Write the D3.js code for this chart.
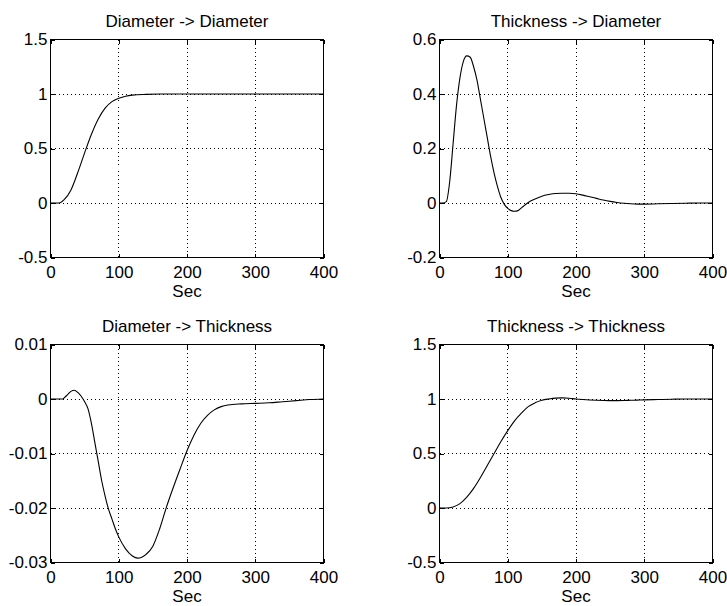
<!DOCTYPE html>
<html>
<head>
<meta charset="utf-8">
<script src="https://cdn.jsdelivr.net/npm/d3@7"></script>
<style>
  body { margin: 0; background: #fff; }
  text { font-family: "Liberation Sans", Arial, Helvetica, sans-serif; }
</style>
</head>
<body>
<div id="chart"></div>
<script>
// panel titles
var titles = ["Diameter -> Diameter", "Thickness -> Diameter",
              "Diameter -> Thickness", "Thickness -> Thickness"];

// x axis shared by all four panels
var xTicks = [0, 100, 200, 300, 400];
var xLabels = ["0", "100", "200", "300", "400"];

// y ticks / labels per panel
var yTicks1 = [-0.5, 0, 0.5, 1, 1.5];
var yLabels1 = ["-0.5", "0", "0.5", "1", "1.5"];
var yTicks2 = [-0.2, 0, 0.2, 0.4, 0.6];
var yLabels2 = ["-0.2", "0", "0.2", "0.4", "0.6"];
var yTicks3 = [-0.03, -0.02, -0.01, 0, 0.01];
var yLabels3 = ["-0.03", "-0.02", "-0.01", "0", "0.01"];
var yTicks4 = [-0.5, 0, 0.5, 1, 1.5];
var yLabels4 = ["-0.5", "0", "0.5", "1", "1.5"];

// step responses
var t1 = [0, 10, 15, 20, 30, 40, 50, 60, 70, 80, 90, 100, 110, 120, 140, 160, 200, 300, 400];
var v1 = [0, 0, 0.005, 0.03, 0.12, 0.28, 0.46, 0.63, 0.77, 0.87, 0.93, 0.96, 0.98, 0.99, 0.997, 1, 1, 1, 1];

var t2 = [0, 5, 10, 15, 20, 25, 30, 35, 40, 45, 50, 55, 60, 65, 70, 75, 80, 85, 90, 95,
          100, 105, 110, 115, 120, 125, 130, 140, 150, 160, 170, 180, 190, 200, 210, 220,
          230, 240, 250, 260, 270, 280, 290, 300, 320, 340, 360, 380, 400];
var v2 = [0, 0, 0.005, 0.08, 0.22, 0.36, 0.46, 0.52, 0.54, 0.535, 0.5, 0.45, 0.38, 0.31, 0.24, 0.17, 0.11, 0.06, 0.02, -0.005,
          -0.02, -0.028, -0.03, -0.028, -0.018, -0.008, 0.002, 0.015, 0.025, 0.031, 0.035, 0.036, 0.036, 0.034, 0.029, 0.023,
          0.017, 0.011, 0.006, 0.002, -0.001, -0.003, -0.004, -0.004, -0.003, -0.002, -0.001, 0, 0];

var t3 = [0, 10, 18, 20, 25, 30, 35, 40, 45, 50, 55, 60, 65, 70, 75, 80, 85, 90, 95, 100,
          110, 120, 128, 140, 150, 160, 170, 180, 190, 200, 210, 220, 230, 240, 250, 260,
          280, 300, 320, 340, 360, 380, 400];
var v3 = [0, 0, 0, 0.0002, 0.0008, 0.0014, 0.0016, 0.0012, 0.0005, -0.0005, -0.0018, -0.0045, -0.008, -0.0115, -0.015, -0.0178, -0.0202, -0.022, -0.0238, -0.0253,
          -0.0275, -0.0288, -0.0292, -0.0285, -0.027, -0.0238, -0.0198, -0.0162, -0.0128, -0.0095, -0.0067, -0.0045, -0.003, -0.002, -0.0014, -0.0011,
          -0.0009, -0.0008, -0.0007, -0.0005, -0.0003, -0.0001, 0];

var t4 = [0, 10, 20, 30, 40, 50, 60, 70, 80, 90, 100, 110, 120, 130, 140, 150, 160, 170, 180, 190,
          200, 210, 220, 230, 240, 250, 260, 270, 280, 290, 300, 320, 340, 360, 380, 400];
var v4 = [0, 0, 0.01, 0.04, 0.1, 0.18, 0.28, 0.39, 0.5, 0.61, 0.71, 0.8, 0.87, 0.93, 0.965, 0.988, 1.0, 1.008, 1.01, 1.007,
          1.0, 0.995, 0.991, 0.988, 0.986, 0.985, 0.985, 0.986, 0.988, 0.99, 0.992, 0.995, 0.998, 1.0, 1.0, 1.0];

var W = 727, H = 606;
var pw = 273, ph = 218;
var fontSize = "17px";

var panels = [
    { left: 50.5,  top: 39.5,  t: t1, v: v1, yt: yTicks1, yl: yLabels1 },
    { left: 439.5, top: 39.5,  t: t2, v: v2, yt: yTicks2, yl: yLabels2 },
    { left: 50.5,  top: 344.5, t: t3, v: v3, yt: yTicks3, yl: yLabels3 },
    { left: 439.5, top: 344.5, t: t4, v: v4, yt: yTicks4, yl: yLabels4 }
];

var svg = d3.select("#chart")
            .append("svg")
            .attr("width", W)
            .attr("height", H);

panels.forEach(function (p, i) {
    var g = svg.append("g")
               .attr("transform", `translate(${p.left},${p.top})`);

    var x = d3.scaleLinear().domain([0, 400]).range([0, pw]);
    var y = d3.scaleLinear()
              .domain([p.yt[0], p.yt[p.yt.length - 1]])
              .range([ph, 0]);

    // dotted grid
    g.append("g")
     .selectAll("line")
     .data(xTicks.slice(1, -1))
     .enter()
     .append("line")
     .attr("x1", function (d) { return x(d); })
     .attr("x2", function (d) { return x(d); })
     .attr("y1", 0)
     .attr("y2", ph)
     .attr("stroke", "#000")
     .attr("stroke-dasharray", "1,3")
     .attr("shape-rendering", "crispEdges");

    g.append("g")
     .selectAll("line")
     .data(p.yt.slice(1, -1))
     .enter()
     .append("line")
     .attr("x1", 0)
     .attr("x2", pw)
     .attr("y1", function (d) { return y(d); })
     .attr("y2", function (d) { return y(d); })
     .attr("stroke", "#000")
     .attr("stroke-dasharray", "1,3")
     .attr("shape-rendering", "crispEdges");

    // axes, ticks pointing inward
    var xAxis = d3.axisBottom(x)
                  .tickValues(xTicks)
                  .tickFormat(function (d, k) { return xLabels[k]; })
                  .tickSize(-4)
                  .tickPadding(8);
    var yAxis = d3.axisLeft(y)
                  .tickValues(p.yt)
                  .tickFormat(function (d, k) { return p.yl[k]; })
                  .tickSize(-4)
                  .tickPadding(3);

    var gx = g.append("g").attr("transform", `translate(0,${ph})`).call(xAxis);
    var gy = g.append("g").call(yAxis);
    g.append("g").call(d3.axisTop(x).tickValues(xTicks).tickFormat("").tickSize(-4));
    g.append("g").attr("transform", `translate(${pw},0)`)
     .call(d3.axisRight(y).tickValues(p.yt).tickFormat("").tickSize(-4));

    g.selectAll(".domain").remove();
    g.selectAll(".tick line").attr("stroke", "#000").attr("shape-rendering", "crispEdges");
    [gx, gy].forEach(function (a) {
        a.selectAll("text")
         .attr("fill", "#000")
         .style("font-size", fontSize)
         .style("font-family", '"Liberation Sans", Arial, sans-serif');
    });

    // box
    g.append("rect")
     .attr("x", 0)
     .attr("y", 0)
     .attr("width", pw)
     .attr("height", ph)
     .attr("fill", "none")
     .attr("stroke", "#000")
     .attr("shape-rendering", "crispEdges");

    // response curve
    var line = d3.line()
                 .x(function (d) { return x(d[0]); })
                 .y(function (d) { return y(d[1]); })
                 .curve(d3.curveMonotoneX);

    g.append("path")
     .datum(p.t.map(function (tt, k) { return [tt, p.v[k]]; }))
     .attr("d", line)
     .attr("fill", "none")
     .attr("stroke", "#000")
     .attr("stroke-width", 1.1);

    // title and x label
    g.append("text")
     .attr("x", pw / 2)
     .attr("y", -13)
     .attr("text-anchor", "middle")
     .style("font-size", fontSize)
     .text(titles[i]);

    g.append("text")
     .attr("x", pw / 2)
     .attr("y", ph + 39)
     .attr("text-anchor", "middle")
     .style("font-size", fontSize)
     .text("Sec");
});
</script>
</body>
</html>
